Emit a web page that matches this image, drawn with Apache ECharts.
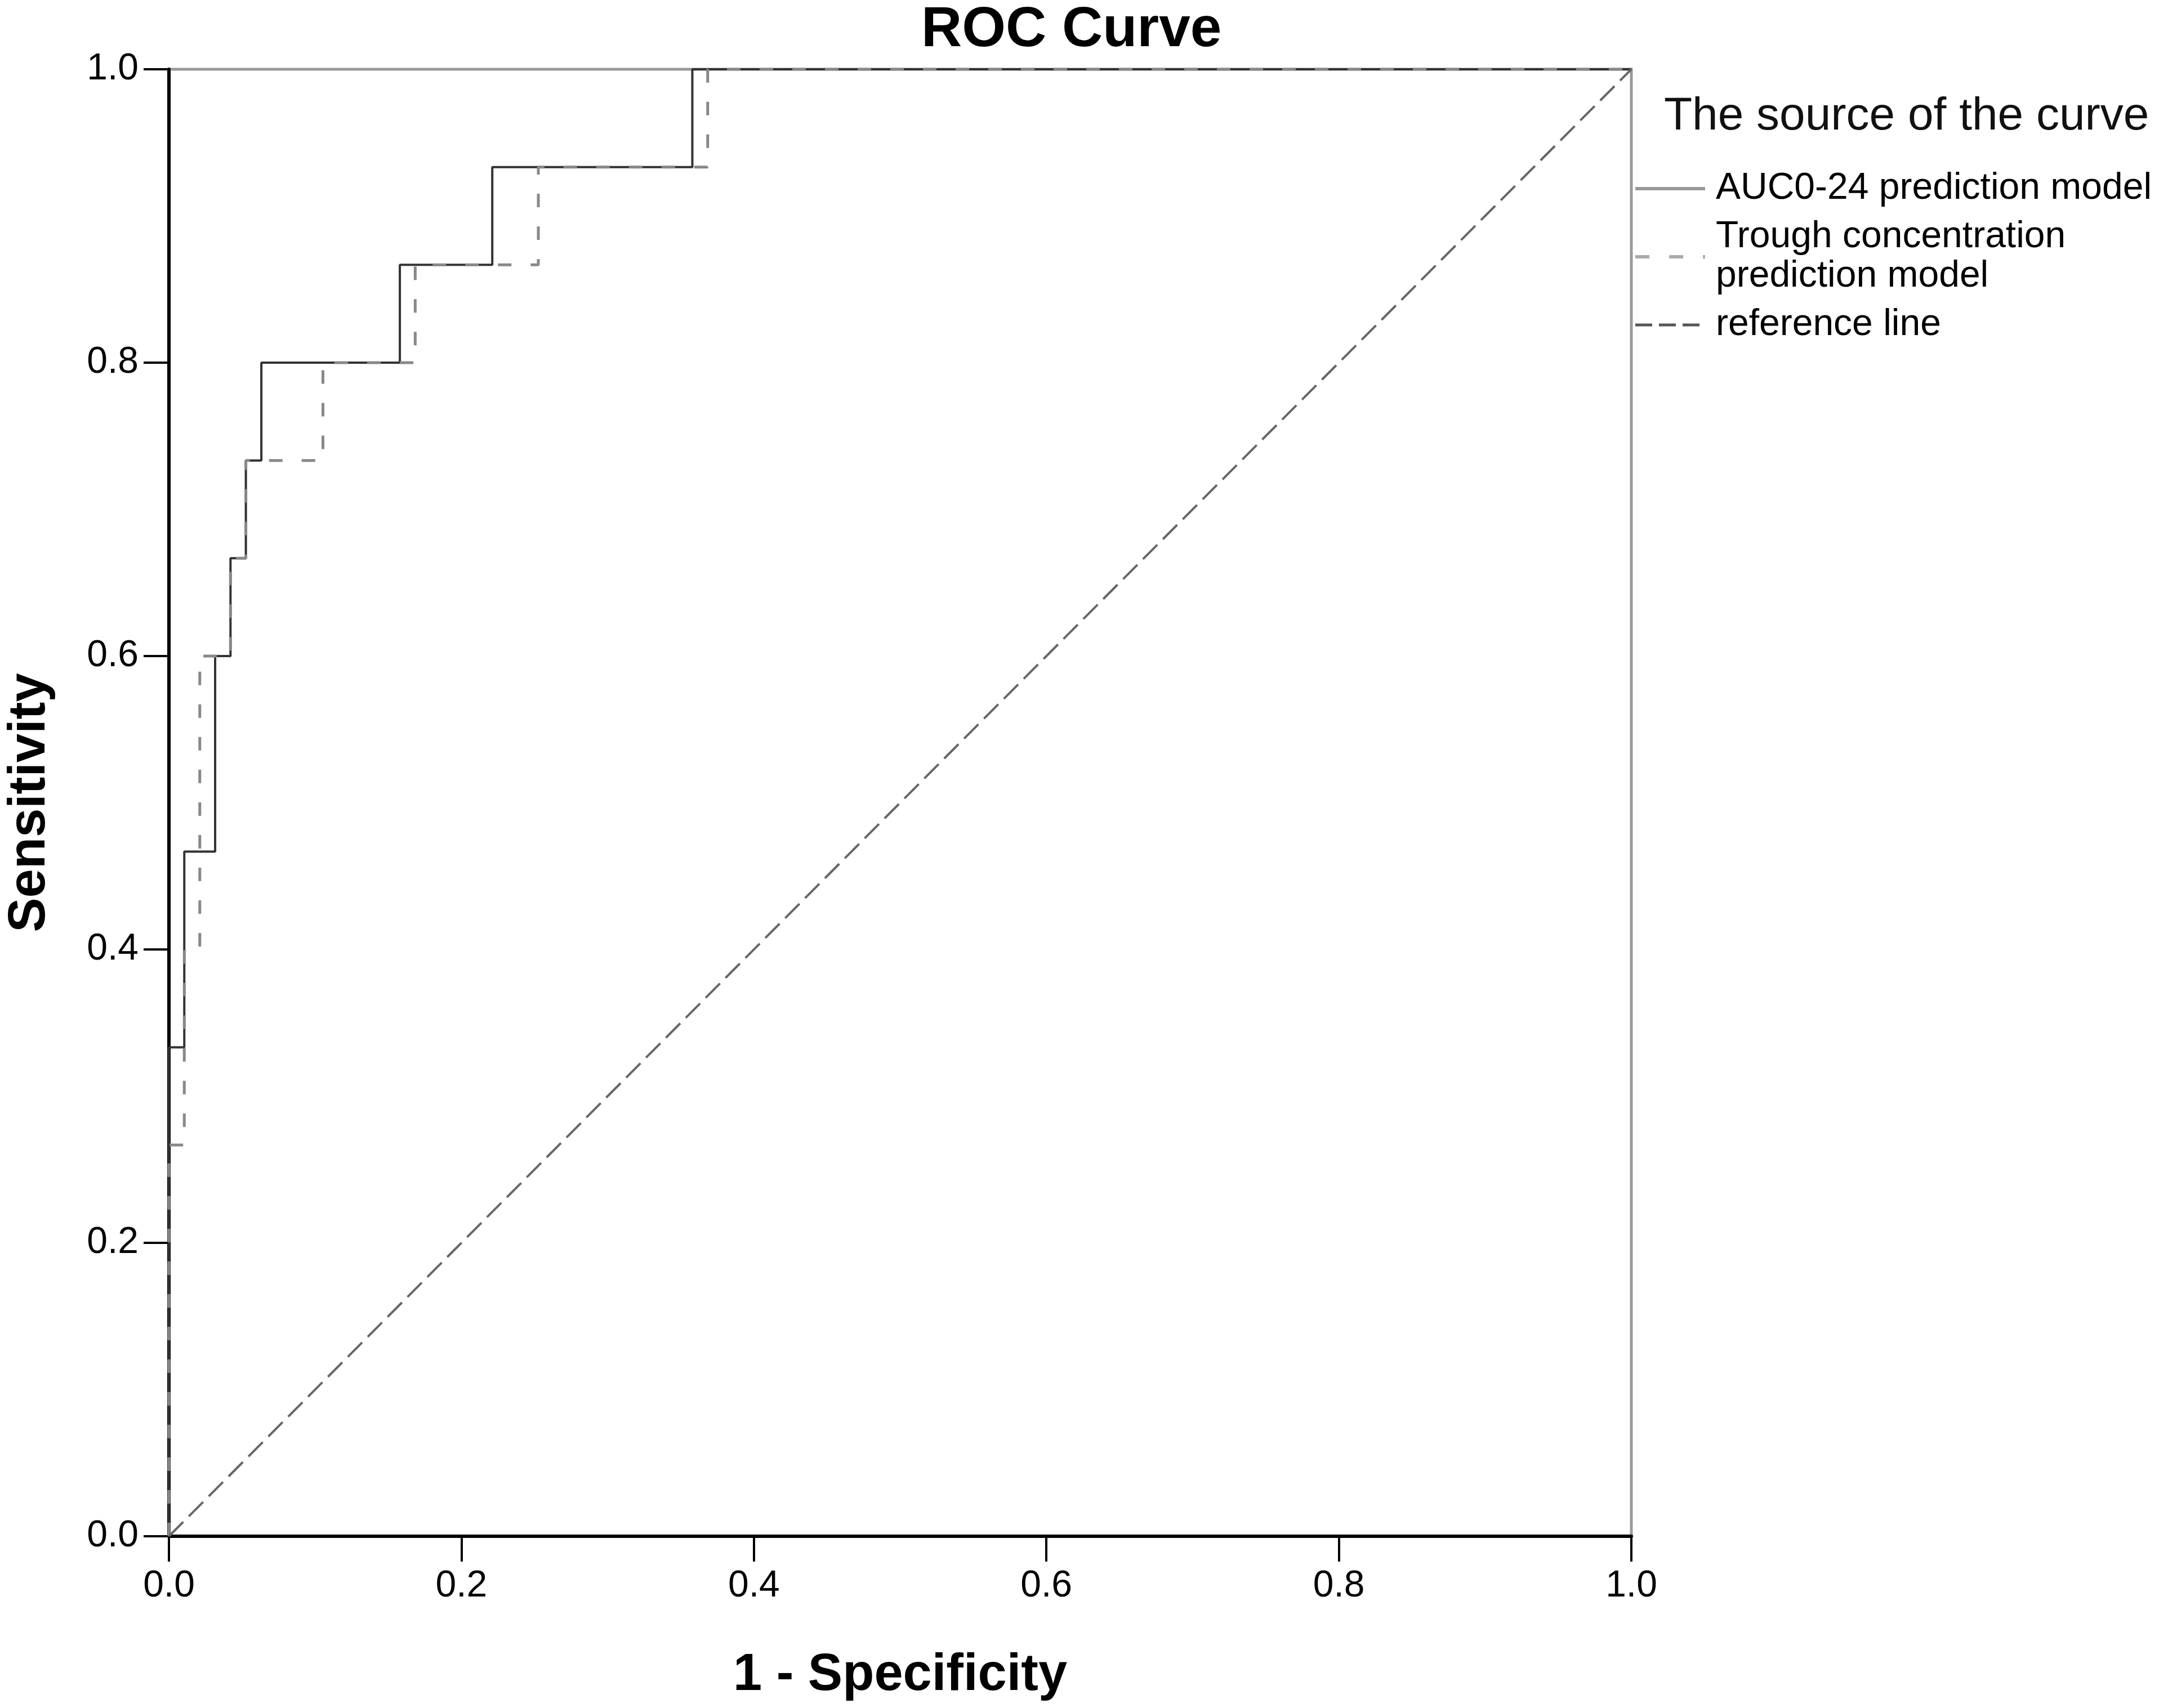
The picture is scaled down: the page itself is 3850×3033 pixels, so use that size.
<!DOCTYPE html>
<html>
<head>
<meta charset="utf-8">
<script src="https://cdn.jsdelivr.net/npm/echarts@6/dist/echarts.min.js"></script>
<style>
html, body { margin: 0; padding: 0; background: #fff; }
#roc { width: 3850px; height: 3033px; }
</style>
</head>
<body>
<div id="roc"></div>
<script>
// ROC operating points (1 - specificity, sensitivity)
var aucFpr = [0, 0.0105, 0.0316, 0.0421, 0.0526, 0.0632, 0.1579, 0.2211, 0.3579, 1];
var aucTpr = [0, 0.3333, 0.4667, 0.6, 0.6667, 0.7333, 0.8, 0.8667, 0.9333, 1];
var troughFpr = [0, 0.0105, 0.0211, 0.0421, 0.0526, 0.1053, 0.1684, 0.2526, 0.3684, 1];
var troughTpr = [0, 0.2667, 0.4, 0.6, 0.6667, 0.7333, 0.8, 0.8667, 0.9333, 1];
var refX = [0, 1];
var refY = [0, 1];

var names = ['AUC0-24 prediction model', 'Trough concentration prediction model', 'reference line'];

function pairs(xs, ys) {
    return xs.map(function (x, i) { return [x, ys[i]]; });
}

var font = 'Liberation Sans, Arial, sans-serif';
var noDot = { color: 'rgba(0,0,0,0)', opacity: 0, borderWidth: 0 };

var option = {
    backgroundColor: '#fff',
    animation: false,
    title: [
        {
            text: 'ROC Curve',
            left: 1636,
            top: 4,
            padding: 0,
            textStyle: { fontFamily: font, fontSize: 100, fontWeight: 'bold', color: '#000' }
        },
        {
            text: 'The source of the curve',
            left: 2955,
            top: 166,
            padding: 0,
            textStyle: { fontFamily: font, fontSize: 82, fontWeight: 'normal', color: '#111' }
        }
    ],
    legend: {
        orient: 'vertical',
        left: 2901,
        top: 300,
        padding: 0,
        itemGap: 16,
        itemWidth: 124,
        itemHeight: 20,
        textStyle: { fontFamily: font, fontSize: 66, color: '#000', lineHeight: 70, padding: [0, 0, 0, 14] },
        formatter: function (name) {
            return name === names[1] ? 'Trough concentration\nprediction model' : name;
        },
        data: [
            { name: names[0], itemStyle: noDot, lineStyle: { color: '#999', width: 6, type: 'solid' } },
            { name: names[1], itemStyle: noDot, lineStyle: { color: '#aaa', width: 6, type: [25, 35] } },
            { name: names[2], itemStyle: noDot, lineStyle: { color: '#555', width: 5, type: [30, 12] } }
        ]
    },
    grid: {
        left: 299,
        right: 953,
        top: 123,
        bottom: 305,
        show: true,
        borderColor: '#999',
        borderWidth: 5
    },
    xAxis: {
        type: 'value',
        min: 0,
        max: 1,
        interval: 0.2,
        name: '1 - Specificity',
        nameLocation: 'middle',
        nameGap: 202,
        nameTextStyle: { fontFamily: font, fontSize: 92, fontWeight: 'bold', color: '#000' },
        axisLine: { lineStyle: { color: '#000', width: 6 } },
        axisTick: { length: 45, lineStyle: { color: '#000', width: 4 } },
        axisLabel: {
            margin: 56,
            fontFamily: font, fontSize: 66, color: '#000',
            formatter: function (v) { return v.toFixed(1); }
        },
        splitLine: { show: false }
    },
    yAxis: {
        type: 'value',
        min: 0,
        max: 1,
        interval: 0.2,
        name: 'Sensitivity',
        nameLocation: 'middle',
        nameGap: 200,
        nameTextStyle: { fontFamily: font, fontSize: 92, fontWeight: 'bold', color: '#000' },
        axisLine: { show: true, lineStyle: { color: '#000', width: 6 } },
        axisTick: { show: true, length: 45, lineStyle: { color: '#000', width: 4 } },
        axisLabel: {
            margin: 54,
            fontFamily: font, fontSize: 66, color: '#000',
            formatter: function (v) { return v.toFixed(1); }
        },
        splitLine: { show: false }
    },
    series: [
        {
            name: names[0],
            type: 'line',
            step: 'start',
            symbol: 'none',
            clip: false,
            color: '#333',
            lineStyle: { color: '#333', width: 4, type: 'solid' },
            data: pairs(aucFpr, aucTpr)
        },
        {
            name: names[1],
            type: 'line',
            step: 'start',
            symbol: 'none',
            clip: false,
            color: '#888',
            lineStyle: { color: '#888', width: 5, type: [24, 34] },
            data: pairs(troughFpr, troughTpr)
        },
        {
            name: names[2],
            type: 'line',
            symbol: 'none',
            clip: false,
            color: '#666',
            lineStyle: { color: '#666', width: 4, type: [36, 14] },
            data: pairs(refX, refY)
        }
    ]
};

var chart = echarts.init(document.getElementById('roc'));
chart.setOption(option);
</script>
</body>
</html>
